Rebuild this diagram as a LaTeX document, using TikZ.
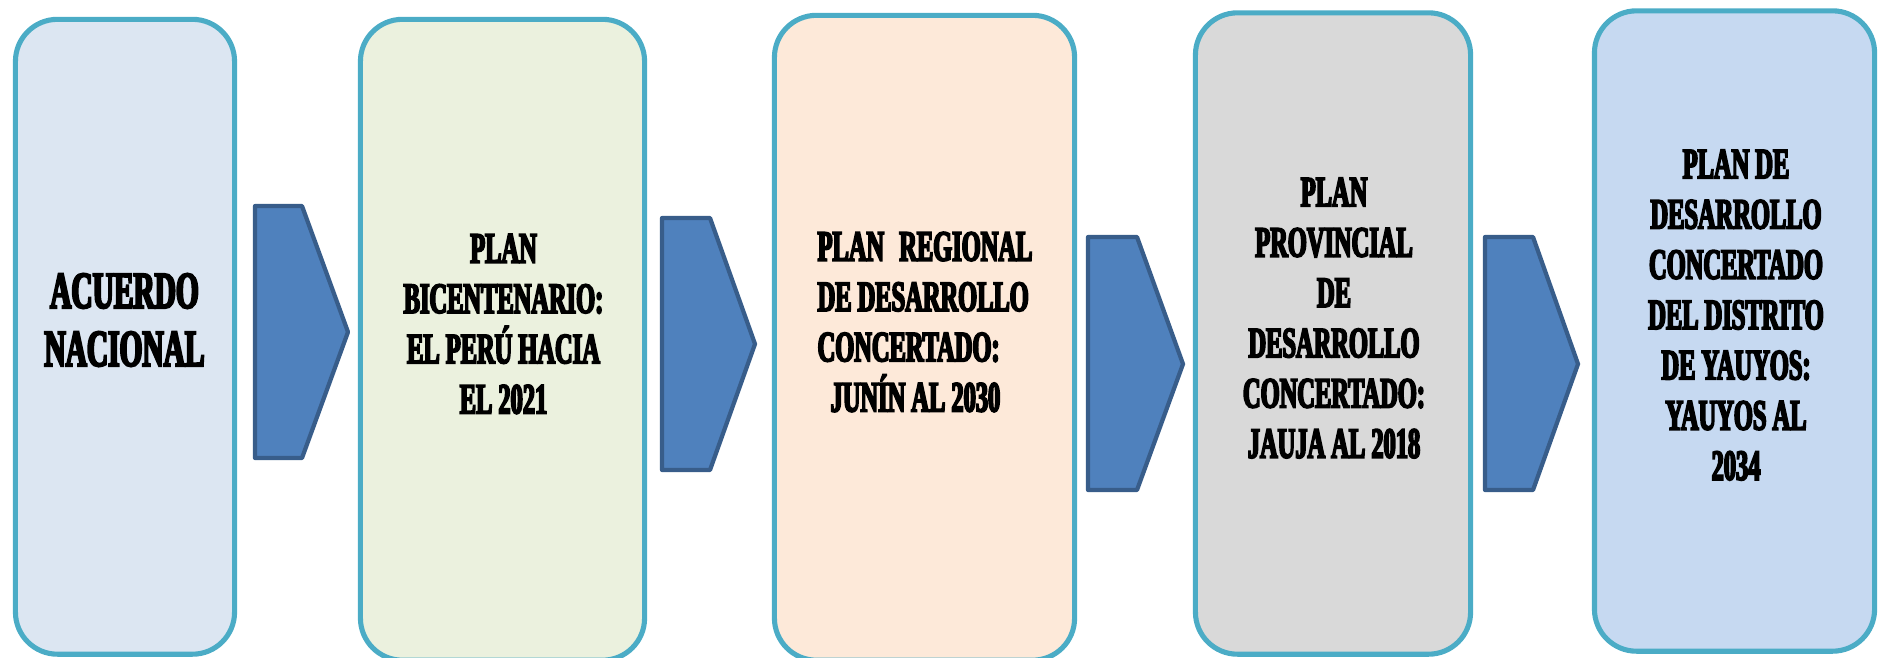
\documentclass[tikz,border=0pt]{standalone}
\usepackage{fontspec}
\newfontfamily\cond[FakeStretch=0.565,BoldFeatures={FakeBold=4}]{Liberation Serif}
\definecolor{bord}{HTML}{4BACC6}
\definecolor{fA}{HTML}{DCE6F2}
\definecolor{fB}{HTML}{EBF1DE}
\definecolor{fC}{HTML}{FDE9D9}
\definecolor{fD}{HTML}{D9D9D9}
\definecolor{fE}{HTML}{C6D9F1}
\definecolor{arrfill}{HTML}{4F81BD}
\definecolor{arrline}{HTML}{385D8A}
\begin{document}
\begin{tikzpicture}[x=0.01cm,y=-0.01cm,
  box/.style={draw=bord,line width=1.45pt,rounded corners=0.42cm,inner sep=0pt,outer sep=0pt},
  label/.style={inner sep=0pt,align=center,text=black,font=\cond\bfseries\fontsize{12.3}{14.3}\selectfont},
  biglabel/.style={label,font=\cond\bfseries\fontsize{14.8}{16.5}\selectfont},
  blockarrow/.style={draw=arrline,fill=arrfill,line width=1.2pt,line join=round}]
\useasboundingbox (0,0) rectangle (1880,657);
% boxes
\node[box,fill=fA,minimum width=2.19cm,minimum height=6.345cm] (b1) at (125,336.75) {};
\node[box,fill=fB,minimum width=2.84cm,minimum height=6.405cm] (b2) at (502.5,339.75) {};
\node[box,fill=fC,minimum width=3.00cm,minimum height=6.445cm] (b3) at (924.5,337.75) {};
\node[box,fill=fD,minimum width=2.75cm,minimum height=6.41cm] (b4) at (1333,333.5) {};
\node[box,fill=fE,minimum width=2.80cm,minimum height=6.40cm] (b5) at (1734.5,331) {};
% block arrows
\draw[blockarrow] (255,206) -- (302,206) -- (348,332) -- (302,458) -- (255,458) -- cycle;
\draw[blockarrow] (662,218) -- (710,218) -- (755,344) -- (710,470) -- (662,470) -- cycle;
\draw[blockarrow] (1088,237) -- (1137,237) -- (1183,364) -- (1137,490) -- (1088,490) -- cycle;
\draw[blockarrow] (1485,237) -- (1533,237) -- (1578,364) -- (1533,490) -- (1485,490) -- cycle;
% texts
\node[biglabel] (t1) at (124.5,320) {ACUERDO\\NACIONAL};
\node[label] (t2) at (503.5,324) {PLAN\\BICENTENARIO:\\EL PERÚ HACIA\\EL 2021};
\node[label,align=left] (t3) at (925,322) {PLAN\hspace{0.35em}REGIONAL\\DE DESARROLLO\\CONCERTADO:\\\hspace*{0.3em}JUNÍN AL 2030};
\node[label] (t4) at (1334,318) {PLAN\\PROVINCIAL\\DE\\DESARROLLO\\CONCERTADO:\\JAUJA AL 2018};
\node[label] (t5) at (1736,315) {PLAN DE\\DESARROLLO\\CONCERTADO\\DEL DISTRITO\\DE YAUYOS:\\YAUYOS AL\\2034};
\end{tikzpicture}
\end{document}
